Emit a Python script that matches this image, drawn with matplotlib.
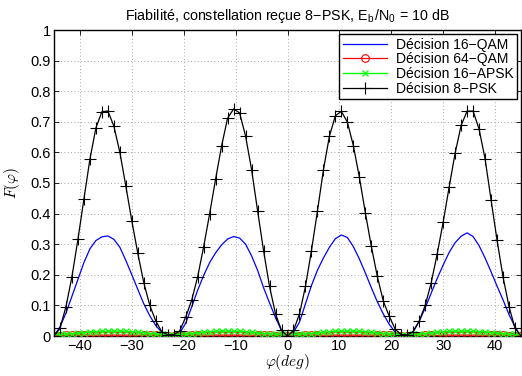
import numpy as np
import matplotlib
matplotlib.use("Agg")
import matplotlib.pyplot as plt

# ── data ─────────────────────────────────────────────────────────────────────
# angle grid (deg), 79 samples over [-45, 45]
PHI = np.linspace(-45, 45, 79)

# Décision 8-PSK (black, +)
F_8PSK = [
    0.000, 0.025, 0.096, 0.194, 0.316, 0.448, 0.578, 0.680, 0.733, 0.735,
    0.686, 0.600, 0.490, 0.376, 0.270, 0.174, 0.100, 0.049, 0.014, 0.004,
    0.004, 0.017, 0.062, 0.117, 0.194, 0.292, 0.400, 0.514, 0.622, 0.712,
    0.742, 0.729, 0.653, 0.544, 0.410, 0.279, 0.162, 0.072, 0.018, 0.000,
    0.018, 0.072, 0.162, 0.279, 0.408, 0.543, 0.653, 0.720, 0.734, 0.699,
    0.622, 0.519, 0.403, 0.293, 0.195, 0.114, 0.064, 0.022, 0.004, 0.004,
    0.014, 0.049, 0.100, 0.174, 0.268, 0.372, 0.487, 0.598, 0.688, 0.735,
    0.735, 0.676, 0.579, 0.445, 0.313, 0.193, 0.096, 0.025, 0.000,
]

# Décision 16-QAM (blue)
F_16QAM = [
    0.000, 0.030, 0.075, 0.130, 0.185, 0.240, 0.285, 0.312, 0.324, 0.327,
    0.316, 0.290, 0.247, 0.200, 0.152, 0.105, 0.066, 0.034, 0.012, 0.002,
    0.001, 0.010, 0.042, 0.095, 0.150, 0.198, 0.240, 0.272, 0.298, 0.317,
    0.325, 0.320, 0.300, 0.262, 0.215, 0.158, 0.108, 0.060, 0.018, 0.000,
    0.012, 0.045, 0.105, 0.165, 0.215, 0.255, 0.290, 0.318, 0.330, 0.322,
    0.292, 0.252, 0.206, 0.158, 0.112, 0.072, 0.038, 0.012, 0.002, 0.001,
    0.015, 0.048, 0.092, 0.140, 0.188, 0.232, 0.273, 0.305, 0.326, 0.337,
    0.325, 0.295, 0.255, 0.210, 0.163, 0.118, 0.070, 0.030, 0.000,
]

# Décision 64-QAM (red, o)
F_64QAM = [
    0.001, 0.001, 0.002, 0.002, 0.002, 0.003, 0.003, 0.003, 0.003, 0.003,
    0.003, 0.003, 0.003, 0.003, 0.003, 0.002, 0.002, 0.002, 0.001, 0.001,
    0.001, 0.001, 0.002, 0.002, 0.002, 0.003, 0.003, 0.003, 0.003, 0.003,
    0.003, 0.003, 0.003, 0.003, 0.002, 0.002, 0.002, 0.001, 0.001, 0.001,
    0.001, 0.001, 0.002, 0.002, 0.002, 0.003, 0.003, 0.003, 0.003, 0.003,
    0.003, 0.003, 0.003, 0.003, 0.002, 0.002, 0.002, 0.001, 0.001, 0.001,
    0.001, 0.001, 0.002, 0.002, 0.002, 0.003, 0.003, 0.003, 0.003, 0.003,
    0.003, 0.003, 0.003, 0.002, 0.002, 0.002, 0.001, 0.001, 0.001,
]

# Décision 16-APSK (green, x)
F_16APSK = [
    0.004, 0.005, 0.006, 0.007, 0.009, 0.011, 0.013, 0.014, 0.015, 0.016,
    0.016, 0.016, 0.015, 0.014, 0.012, 0.010, 0.008, 0.006, 0.005, 0.004,
    0.004, 0.005, 0.006, 0.008, 0.010, 0.012, 0.014, 0.015, 0.016, 0.016,
    0.016, 0.015, 0.014, 0.012, 0.010, 0.008, 0.007, 0.006, 0.005, 0.004,
    0.005, 0.006, 0.007, 0.008, 0.010, 0.012, 0.014, 0.015, 0.016, 0.016,
    0.016, 0.015, 0.014, 0.012, 0.010, 0.008, 0.006, 0.005, 0.004, 0.004,
    0.005, 0.006, 0.008, 0.010, 0.012, 0.014, 0.015, 0.016, 0.016, 0.016,
    0.015, 0.014, 0.013, 0.011, 0.009, 0.007, 0.006, 0.005, 0.004,
]

LABELS = ["Décision 16−QAM", "Décision 64−QAM", "Décision 16−APSK", "Décision 8−PSK"]
XTICKS = [-40, -30, -20, -10, 0, 10, 20, 30, 40]
YTICKS = [0, 0.1, 0.2, 0.3, 0.4, 0.5, 0.6, 0.7, 0.8, 0.9, 1]
YTICKLABELS = ["0", "0.1", "0.2", "0.3", "0.4", "0.5", "0.6", "0.7", "0.8", "0.9", "1"]

# ── style ────────────────────────────────────────────────────────────────────
plt.rcParams["font.family"] = ["Liberation Sans", "DejaVu Sans"]
plt.rcParams["mathtext.fontset"] = "cm"

fig = plt.figure(figsize=(5.22, 3.76), dpi=100, facecolor="white")
ax = fig.add_axes([54 / 522, 40 / 376, 467 / 522, 306 / 376])

ax.plot(PHI, F_16QAM, color="#0000ff", lw=0.9, label=LABELS[0], zorder=3)
ax.plot(PHI, F_64QAM, color="#ff0000", lw=0.9, marker="o", ms=5.5,
        mfc="none", mew=0.8, label=LABELS[1], zorder=4)
ax.plot(PHI, F_16APSK, color="#00ff00", lw=1.0, marker="x", ms=5,
        mew=0.9, label=LABELS[2], zorder=5)
ax.plot(PHI, F_8PSK, color="black", lw=0.9, marker="+", ms=8,
        mew=0.8, label=LABELS[3], zorder=6)

ax.set_xlim(-45, 45)
ax.set_ylim(0, 1)
ax.set_xticks(XTICKS)
ax.set_yticks(YTICKS)
ax.set_yticklabels(YTICKLABELS)
ax.set_xticklabels([str(t).replace("-", "−") for t in XTICKS])
ax.tick_params(direction="in", top=True, right=True, length=3.5, width=0.6,
               labelsize=10.5, pad=2.5)
for sp in ax.spines.values():
    sp.set_linewidth(1.0)

ax.grid(True, color="#888888", linestyle=(0, (1, 3)), linewidth=0.6)
ax.set_axisbelow(True)

ax.set_xlabel(r"$\varphi(deg)$", fontsize=11, labelpad=-1)
ax.set_ylabel(r"$F(\varphi)$", fontsize=11, labelpad=6)
ax.set_title(r"Fiabilité, constellation reçue 8−PSK, E$_\mathregular{b}$/N$_\mathregular{0}$ = 10 dB",
             fontsize=10.3, pad=7)

leg = ax.legend(loc="upper right", fontsize=10, frameon=True, fancybox=False,
                edgecolor="black", framealpha=1, borderaxespad=0.3,
                handlelength=3.2, labelspacing=0.05, borderpad=0.25,
                handletextpad=0.6)
leg.get_frame().set_linewidth(1.0)

fig.savefig("out.png", dpi=100, facecolor="white")
print("Saved → out.png")
